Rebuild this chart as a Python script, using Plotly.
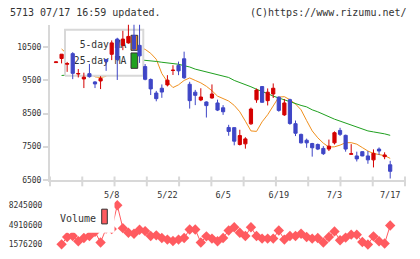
import plotly.graph_objects as go

# ---------------- data ----------------
TICK_IDX = [10, 20, 30, 40, 50, 60]
TICK_TEXT = ["5/8", "5/22", "6/5", "6/19", "7/3", "7/17"]

OPEN = [10040, 10163, 9990, 10310, 9695, 9545, 9705, 9455, 9485, 10135,
        10290, 10750, 10565, 10635, 10860, 10560, 9920, 9530, 9120, 9265,
        9365, 9800, 9955, 10155, 9385, 9145, 8910, 8850, 8970, 8820,
        8675, 8080, 8075, 7565, 7585, 8190, 8915, 9315, 8890, 9090,
        8995, 8460, 8920, 8195, 7870, 7694, 7595, 7566, 7447, 7427,
        7615, 7990, 7842, 7270, 7220, 7348, 7220, 7101, 7427, 7199, 6953]
HIGH = [10065, 10300, 10060, 10355, 9845, 9735, 10000, 9480, 9630, 10150,
        10710, 10790, 11000, 11190, 11190, 11190, 9995, 9560, 9185, 9380,
        9660, 9960, 10070, 10370, 9460, 9215, 9265, 8870, 9380, 8920,
        8755, 8160, 8080, 8010, 7785, 8680, 9255, 9330, 9260, 9410,
        9020, 8940, 8950, 8290, 7895, 7743, 7615, 7595, 7516, 7714,
        7961, 8070, 7863, 7576, 7348, 7360, 7368, 7418, 7477, 7329, 7072]
LOW = [10035, 10015, 9760, 9540, 9590, 9270, 9585, 9270, 9240, 9790,
       10115, 9515, 10415, 10610, 10400, 10030, 9505, 9060, 8870, 8975,
       9320, 9665, 9660, 9545, 8650, 8755, 8875, 8380, 8950, 8575,
       8460, 7830, 7540, 7535, 7440, 8160, 8825, 8830, 8745, 8970,
       8555, 8430, 8160, 7820, 7595, 7466, 7199, 7397, 7249, 7368,
       7566, 7823, 7348, 7260, 7052, 7210, 6983, 6873, 7249, 7121, 6538]
CLOSE = [10060, 10293, 10010, 9715, 9710, 9600, 9615, 9395, 9560, 10075,
         10635, 10133, 10750, 10830, 10450, 10243, 9535, 9245, 8950, 9150,
         9510, 9810, 9790, 9580, 8890, 9050, 9000, 8740, 9090, 8605,
         8555, 7960, 7665, 7835, 7735, 8635, 9210, 8840, 9145, 9265,
         8595, 8820, 8200, 7905, 7615, 7615, 7466, 7427, 7288, 7516,
         7922, 7872, 7427, 7285, 7131, 7220, 7101, 7299, 7368, 7249, 6755]

MA5 = [None, 10450, 10300, 10150, 9960, 9850, 9720, 9610, 9590, 9625,
       9850, 9960, 10230, 10480, 10570, 10500, 10440, 10320, 10140, 9709,
       9457, 9285, 9368, 9501, 9576, 9501, 9427, 9324, 9190, 9027,
       8953, 8879, 8746, 8553, 8270, 7976, 7961, 8250, 8465, 8722,
       8998, 9010, 8918, 8790, 8613, 8287, 7976, 7768, 7605, 7487,
       7495, 7546, 7620, 7620, 7576, 7472, 7368, 7294, 7250, 7229, 7146]
MA25 = [None, 9650, 9660, 9675, 9690, 9700, 9715, 9730, 9755, 9790,
        9840, 9900, 9960, 10030, 10090, 10125, 10115, 10094, 10074, 10050,
        10026, 10020, 9990, 9946, 9907, 9842, 9798, 9753, 9724, 9679,
        9641, 9590, 9501, 9442, 9383, 9309, 9235, 9176, 9102, 9027,
        8968, 8909, 8850, 8805, 8746, 8702, 8613, 8553, 8479, 8390,
        8331, 8272, 8213, 8168, 8094, 8035, 7976, 7946, 7922, 7887, 7842]
VOLUME = [None, 1600000, 2850000, 3010000, 2130000, 2680000, 3010000, 3750000, 1910000, 4300000,
          4200000, 8245000, 4350000, 3580000, 3410000, 4080000, 3850000, 3010000, 3130000, 2680000,
          2410000, 2180000, 2410000, 2680000, 4130000, 4130000, 1910000, 2960000, 2580000, 2130000,
          2680000, 3960000, 4510000, 3580000, 3010000, 4510000, 3010000, 2580000, 2580000, 2580000,
          3960000, 2410000, 3010000, 3010000, 3410000, 2850000, 2580000, 2680000, 1910000, 2850000,
          3800000, 2300000, 2750000, 3250000, 3250000, 2010000, 1576200, 2960000, 2130000, 1750000,
          4800000]

PRICE_TICKS = [6500, 7500, 8500, 9500, 10500]
VOL_TICKS = [1576200, 4910600, 8245000]

# ---------------- style ----------------
W, H = 420, 259
RED = "#d40000"
BLUE = "#3f46c6"
ORANGE = "#f0901e"
GREEN = "#1fa01f"
VOLC = "#ff5b60"
GRID = "#d8d8d8"
TXT = "#333333"
MONO = "DejaVu Sans Mono"

X = list(range(len(OPEN)))
XLO, XHI = -1.08, 62.66
PLO, PHI = 6500, 11190

px_x = lambda p: p / W
px_y = lambda p: (H - p) / H
XDOM = [px_x(50), px_x(405)]
YDOM = [px_y(183.3), px_y(25)]
VDOM = [px_y(256), px_y(203)]

fig = go.Figure()

# moving averages (base layer)
fig.add_trace(go.Scatter(x=X, y=MA5, mode="lines", line=dict(color=ORANGE, width=1),
                         xaxis="x", yaxis="y", hoverinfo="skip"))
fig.add_trace(go.Scatter(x=X, y=MA25, mode="lines", line=dict(color=GREEN, width=1),
                         xaxis="x", yaxis="y", hoverinfo="skip"))

# legend layer (between MA lines and candles), unit coordinates of the plot area
def rect(u0, u1, v0, v1, fill, lc, lw):
    return go.Scatter(x=[u0, u1, u1, u0, u0], y=[v0, v0, v1, v1, v0], mode="lines",
                      fill="toself", fillcolor=fill, line=dict(color=lc, width=lw),
                      xaxis="x3", yaxis="y3", hoverinfo="skip")

fig.add_trace(rect(0.0423, 0.2628, 0.6696, 0.9665, "white", GRID, 2))
fig.add_trace(rect(0.2282, 0.2470, 0.8339, 0.9305, ORANGE, "#333333", 1))
fig.add_trace(rect(0.2282, 0.2470, 0.7176, 0.8169, GREEN, "#333333", 1))
fig.add_trace(go.Scatter(x=[0.215, 0.215], y=[0.867, 0.760], mode="text",
                         text=["5-day MA", "25-day MA"], textposition="middle left",
                         textfont=dict(family=MONO, size=9.7, color=TXT),
                         xaxis="x3", yaxis="y3", hoverinfo="skip"))

# candles (top layer)
fig.add_trace(go.Candlestick(
    x=X, open=OPEN, high=HIGH, low=LOW, close=CLOSE,
    increasing=dict(line=dict(color=RED, width=1), fillcolor=RED),
    decreasing=dict(line=dict(color=BLUE, width=1), fillcolor=BLUE),
    whiskerwidth=0, xaxis="x4", yaxis="y4", hoverinfo="skip"))

# volume
fig.add_trace(go.Scatter(x=X, y=VOLUME, mode="lines+markers",
                         line=dict(color=VOLC, width=1),
                         marker=dict(symbol="diamond", size=8, color=VOLC),
                         xaxis="x2", yaxis="y2", hoverinfo="skip"))

hidden = dict(visible=False, showgrid=False, zeroline=False)
fig.update_layout(
    width=W, height=H, margin=dict(l=0, r=0, t=0, b=0),
    paper_bgcolor="white", plot_bgcolor="white", showlegend=False,
    boxgap=0.18,
    xaxis=dict(domain=XDOM, range=[XLO, XHI], anchor="y",
               tickmode="array", tickvals=TICK_IDX, ticktext=TICK_TEXT,
               ticks="outside", ticklen=6, tickcolor="rgba(0,0,0,0)",
               showline=True, linecolor=GRID, linewidth=2,
               showgrid=False, zeroline=False,
               tickfont=dict(family=MONO, size=8.5, color=TXT)),
    yaxis=dict(domain=YDOM, range=[PLO, PHI], anchor="x",
               tickmode="array", tickvals=PRICE_TICKS, ticktext=[str(v) for v in PRICE_TICKS],
               ticks="outside", ticklen=5, tickwidth=2, tickcolor=GRID,
               showline=True, linecolor=GRID, linewidth=2,
               showgrid=False, zeroline=False,
               tickfont=dict(family=MONO, size=8, color=TXT)),
    xaxis3=dict(overlaying="x", range=[0, 1], anchor="y3", **hidden),
    yaxis3=dict(overlaying="y", range=[0, 1], anchor="x3", **hidden),
    xaxis4=dict(overlaying="x", range=[XLO, XHI], anchor="y4",
                rangeslider=dict(visible=False), **hidden),
    yaxis4=dict(overlaying="y", range=[PLO, PHI], anchor="x4", **hidden),
    xaxis2=dict(domain=XDOM, range=[XLO, XHI], anchor="y2", **hidden),
    yaxis2=dict(domain=VDOM, range=[459000, 9295000], anchor="x2",
                tickmode="array", tickvals=VOL_TICKS, ticktext=[str(v) for v in VOL_TICKS],
                ticks="outside", ticklen=5, tickcolor="rgba(0,0,0,0)",
                showline=False, showgrid=False, zeroline=False,
                tickfont=dict(family=MONO, size=8, color=TXT)),
)

# x-axis tick marks (regular spacing across the axis)
shapes = []
n = 12
for k in range(n):
    xp = XDOM[0] + k * (XDOM[1] - XDOM[0]) / (n - 1)
    shapes.append(dict(type="line", xref="paper", yref="paper", x0=xp, x1=xp,
                       y0=px_y(190), y1=px_y(180), line=dict(color=GRID, width=2), layer="above"))
# volume legend
shapes.append(dict(type="rect", xref="paper", yref="paper", x0=px_x(52), x1=px_x(114.5),
                   y0=px_y(237.3), y1=px_y(204), fillcolor="white", line=dict(width=0), layer="above"))
shapes.append(dict(type="rect", xref="paper", yref="paper", x0=px_x(101.7), x1=px_x(107.3),
                   y0=px_y(228.3), y1=px_y(213.3), fillcolor=VOLC,
                   line=dict(color="#333333", width=1), layer="above"))
fig.update_layout(shapes=shapes)

fig.add_annotation(text="Volume", xref="paper", yref="paper", x=px_x(58), y=px_y(222.5),
                   xanchor="left", yanchor="middle", showarrow=False,
                   font=dict(family=MONO, size=10, color=TXT))
fig.add_annotation(text="5713 07/17 16:59 updated.", xref="paper", yref="paper",
                   x=px_x(8), y=px_y(12.5), xanchor="left", yanchor="middle", showarrow=False,
                   font=dict(family=MONO, size=10, color=TXT))
fig.add_annotation(text="(C)https://www.rizumu.net/", xref="paper", yref="paper",
                   x=px_x(409), y=px_y(12.5), xanchor="right", yanchor="middle", showarrow=False,
                   font=dict(family=MONO, size=10, color=TXT))

fig.write_html("out.html")
